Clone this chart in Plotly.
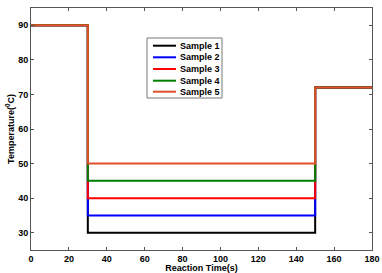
import plotly.graph_objects as go

time_pts = [0, 30, 30, 150, 150, 180]
names = ["Sample 1", "Sample 2", "Sample 3", "Sample 4", "Sample 5"]
hold_temps = [30, 35, 40, 45, 50]
start_temp = 90
end_temp = 72
colors = ["#000000", "#0000FF", "#FF0000", "#008000", "#E0502A"]

W, H = 382, 273
ML, MR, MT, MB = 31, 10, 8, 23
PW, PH = W - ML - MR, H - MT - MB

def px(x):
    return (x - ML) / PW

def py(y):
    return (H - MB - y) / PH

fig = go.Figure()
for name, ht, c in zip(names, hold_temps, colors):
    ys = [start_temp, start_temp, ht, ht, end_temp, end_temp]
    fig.add_trace(go.Scatter(x=time_pts, y=ys, mode="lines", name=name,
                             line=dict(color=c, width=2), showlegend=False))

font = dict(family="Liberation Sans, Arial", size=9, color="#000000")
axis_common = dict(showline=True, linecolor="#555555", linewidth=1, mirror="ticks",
                   ticks="inside", ticklen=3, tickcolor="#555555", showgrid=False,
                   zeroline=False, automargin=False,
                   tickfont=dict(family="Liberation Sans, Arial", size=9, color="#000"))
fig.update_xaxes(range=[0, 180], tickvals=list(range(0, 181, 20)),
                 ticktext=["<b>%d</b>" % v for v in range(0, 181, 20)],
                 title=dict(text="<b>Reaction Time(s)</b>", font=font, standoff=0), **axis_common)
fig.update_yaxes(range=[25, 95], tickvals=list(range(30, 91, 10)),
                 ticktext=["<b>%d</b>" % v for v in range(30, 91, 10)],
                 title=dict(text="<b>Temperature(<sup>0</sup>C)</b>", font=font, standoff=2), **axis_common)

# custom compact legend (box, line samples, labels)
shapes = [dict(type="rect", xref="paper", yref="paper",
               x0=px(147), x1=px(222), y0=py(98), y1=py(38),
               line=dict(color="#777777", width=1), fillcolor="white", layer="above")]
annotations = []
row_y = [45.7, 57.3, 69.0, 80.7, 91.7]
for name, c, ry in zip(names, colors, row_y):
    shapes.append(dict(type="line", xref="paper", yref="paper",
                       x0=px(153), x1=px(176), y0=py(ry), y1=py(ry),
                       line=dict(color=c, width=2), layer="above"))
    annotations.append(dict(xref="paper", yref="paper", x=px(178), y=py(ry),
                            xanchor="left", yanchor="middle", showarrow=False,
                            text="<b>%s</b>" % name, font=font))

fig.update_layout(
    width=W, height=H,
    margin=dict(l=ML, r=MR, t=MT, b=MB),
    plot_bgcolor="white", paper_bgcolor="white",
    font=font, showlegend=False,
    shapes=shapes, annotations=annotations,
)
fig.write_html("out.html", config={"displayModeBar": False, "staticPlot": True})

with open("out.html", "r", encoding="utf-8") as f:
    html = f.read()
html = html.replace("<body>", '<body style="margin:0;padding:0;overflow:hidden">', 1)
with open("out.html", "w", encoding="utf-8") as f:
    f.write(html)
